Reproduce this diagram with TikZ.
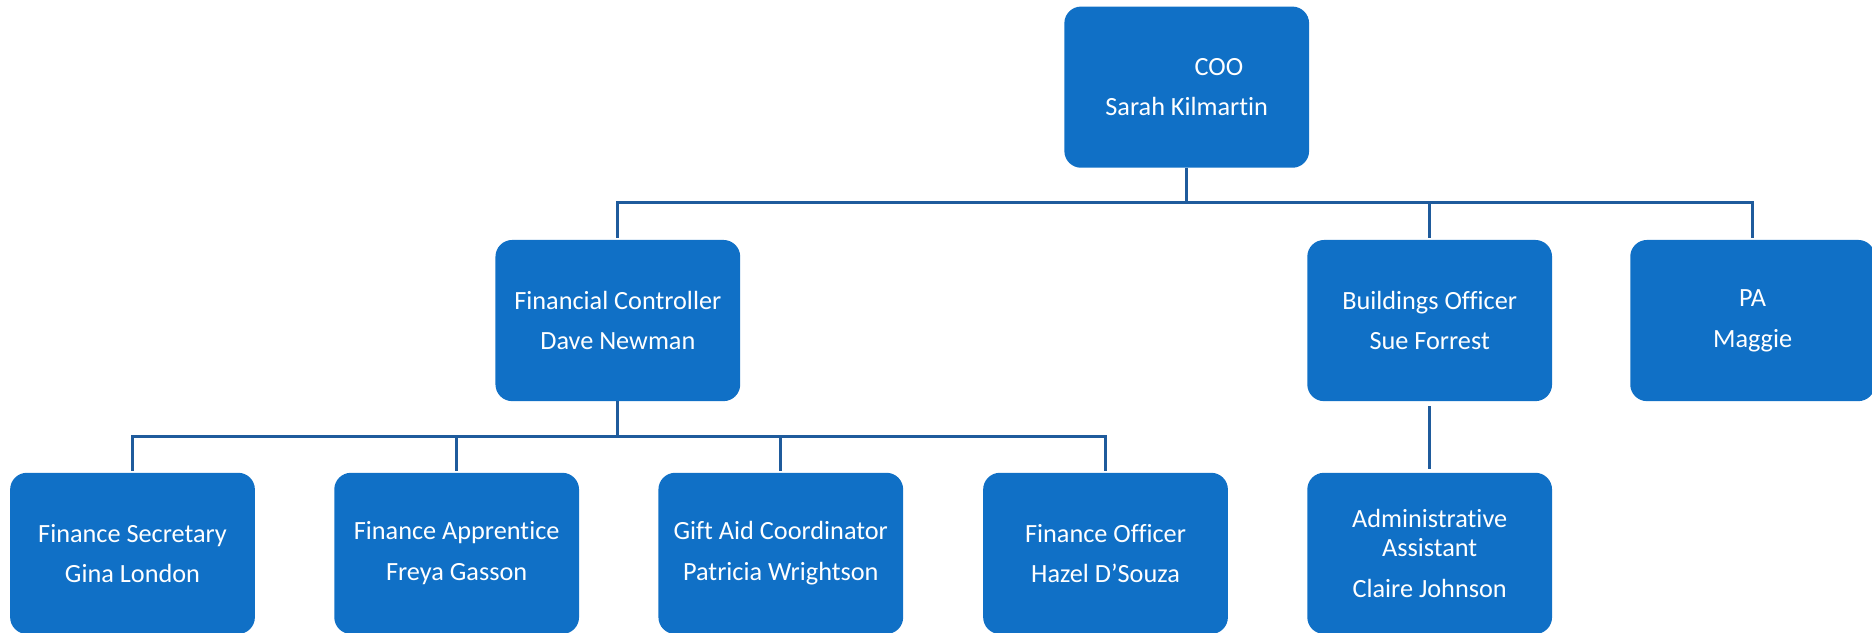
\documentclass[tikz,border=0pt]{standalone}
\usepackage{fontspec}
\setmainfont{Carlito}[Ligatures=NoCommon]
\definecolor{boxblue}{HTML}{1070C6}
\definecolor{linkblue}{HTML}{1F5B9C}
\begin{document}
\begin{tikzpicture}[x=1pt,y=-1pt,
  orgbox/.style={rectangle, rounded corners=14pt, fill=boxblue, text=white,
    minimum width=205pt, minimum height=135pt, align=center, inner sep=0pt,
    font=\fontsize{22}{24}\selectfont},
  link/.style={draw=linkblue, line width=2.5pt}]
\useasboundingbox (0,0) rectangle (1568,530);
\node[orgbox] (coo) at (994,73) {\hspace*{54pt}COO\\[10pt]Sarah Kilmartin};
\node[orgbox] (fc) at (517.5,268.5) {Financial Controller\\[10pt]Dave Newman};
\node[orgbox] (bo) at (1197.5,268.5) {Buildings Officer\\[10pt]Sue Forrest};
\node[orgbox] (pa) at (1468,268.5) {PA\\[10pt]Maggie};
\node[orgbox] (fs) at (111,463.5) {Finance Secretary\\[10pt]Gina London};
\node[orgbox] (fa) at (382.5,463.5) {Finance Apprentice\\[10pt]Freya Gasson};
\node[orgbox] (ga) at (654,463.5) {Gift Aid Coordinator\\[10pt]Patricia Wrightson};
\node[orgbox] (fo) at (926,463.5) {Finance Officer\\[10pt]Hazel D’Souza};
\node[orgbox] (aa) at (1197.5,463.5) {Administrative\\Assistant\\[10pt]Claire Johnson};
\coordinate (c1) at (994,170);
\coordinate (c2) at (517.5,366);
\draw[link] (coo.south) -- (c1);
\draw[link, shorten >=1.5pt] (c1) -| (fc.north);
\draw[link, shorten >=1.5pt] (c1) -| (bo.north);
\draw[link, shorten >=1.5pt] (c1) -| (pa.north);
\draw[link] (fc.south) -- (c2);
\draw[link, shorten >=1.5pt] (c2) -| (fs.north);
\draw[link, shorten >=1.5pt] (c2) -| (fa.north);
\draw[link, shorten >=1.5pt] (c2) -| (ga.north);
\draw[link, shorten >=1.5pt] (c2) -| (fo.north);
\draw[link, shorten <=4pt, shorten >=3pt] (bo.south) -- (aa.north);
\end{tikzpicture}
\end{document}
